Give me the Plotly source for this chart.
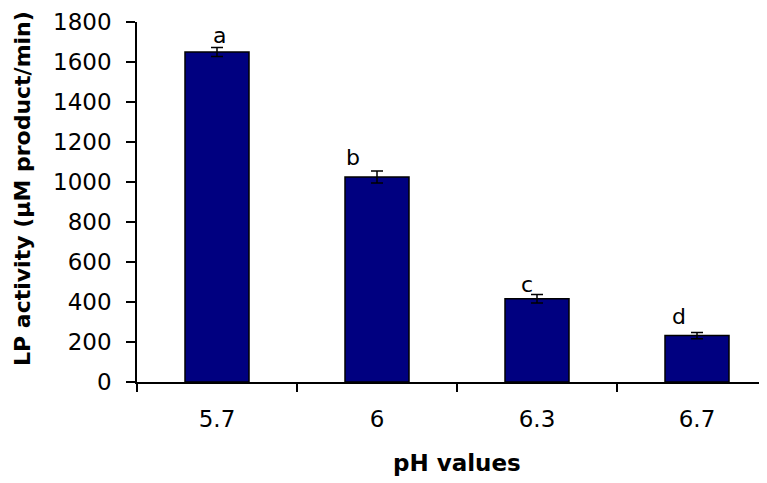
import plotly.graph_objects as go

ph_labels = ["5.7", "6", "6.3", "6.7"]
activity = [1650, 1025, 416, 232]
errors = [22, 30, 21, 16]
letters = ["a", "b", "c", "d"]
y_ticks = [0, 200, 400, 600, 800, 1000, 1200, 1400, 1600, 1800]

letter_xshift = [2, -24, -10, -18]
letter_yshift = [-2, -1, -4, 1]

FONT = "DejaVu Sans"

fig = go.Figure()
fig.add_trace(go.Bar(
    x=ph_labels, y=activity, width=0.4,
    marker=dict(color="#000080", line=dict(color="black", width=1.5)),
    error_y=dict(type="data", array=errors, visible=True,
                 color="black", thickness=1.5, width=6),
    showlegend=False,
))

for i, (val, err, lab, dx, dy) in enumerate(zip(activity, errors, letters,
                                                letter_xshift, letter_yshift)):
    fig.add_annotation(x=i, y=val + err, text=lab, showarrow=False,
                       xref="x", yref="y",
                       xanchor="center", yanchor="bottom",
                       xshift=dx, yshift=dy,
                       font=dict(family=FONT, size=22, color="black"))

# axis titles
fig.add_annotation(text="<b>pH values</b>", xref="paper", yref="paper",
                   x=(456.5 - 137) / 630, y=-(463 - 382) / 360,
                   xanchor="center", yanchor="middle", showarrow=False,
                   font=dict(family=FONT, size=23, color="black"))
fig.add_annotation(text="<b>LP activity (µM product/min)</b>",
                   xref="paper", yref="paper",
                   x=-(137 - 22) / 630, y=(382 - 189) / 360,
                   xanchor="center", yanchor="middle", textangle=-90,
                   showarrow=False,
                   font=dict(family=FONT, size=22, color="black"))

fig.update_layout(
    width=767, height=483,
    margin=dict(l=129, r=8, t=14, b=109),
    plot_bgcolor="white", paper_bgcolor="white",
    font=dict(family=FONT, color="black"),
)
fig.update_xaxes(
    type="category", range=[-0.5, 3.4375], automargin=False,
    showline=True, linecolor="black", linewidth=1.5,
    ticks="outside", tickson="boundaries", ticklen=8, tickwidth=1.5,
    tickcolor="black", tickfont=dict(family=FONT, size=23),
    ticklabelstandoff=16,
    showgrid=False, zeroline=False,
)
fig.update_yaxes(
    range=[0, 1800], tickvals=y_ticks, automargin=False,
    showline=True, linecolor="black", linewidth=1.5,
    ticks="outside", ticklen=9, tickwidth=1.5, tickcolor="black",
    tickfont=dict(family=FONT, size=23), ticklabelstandoff=10,
    showgrid=False, zeroline=False,
)

fig.write_html("out.html")
